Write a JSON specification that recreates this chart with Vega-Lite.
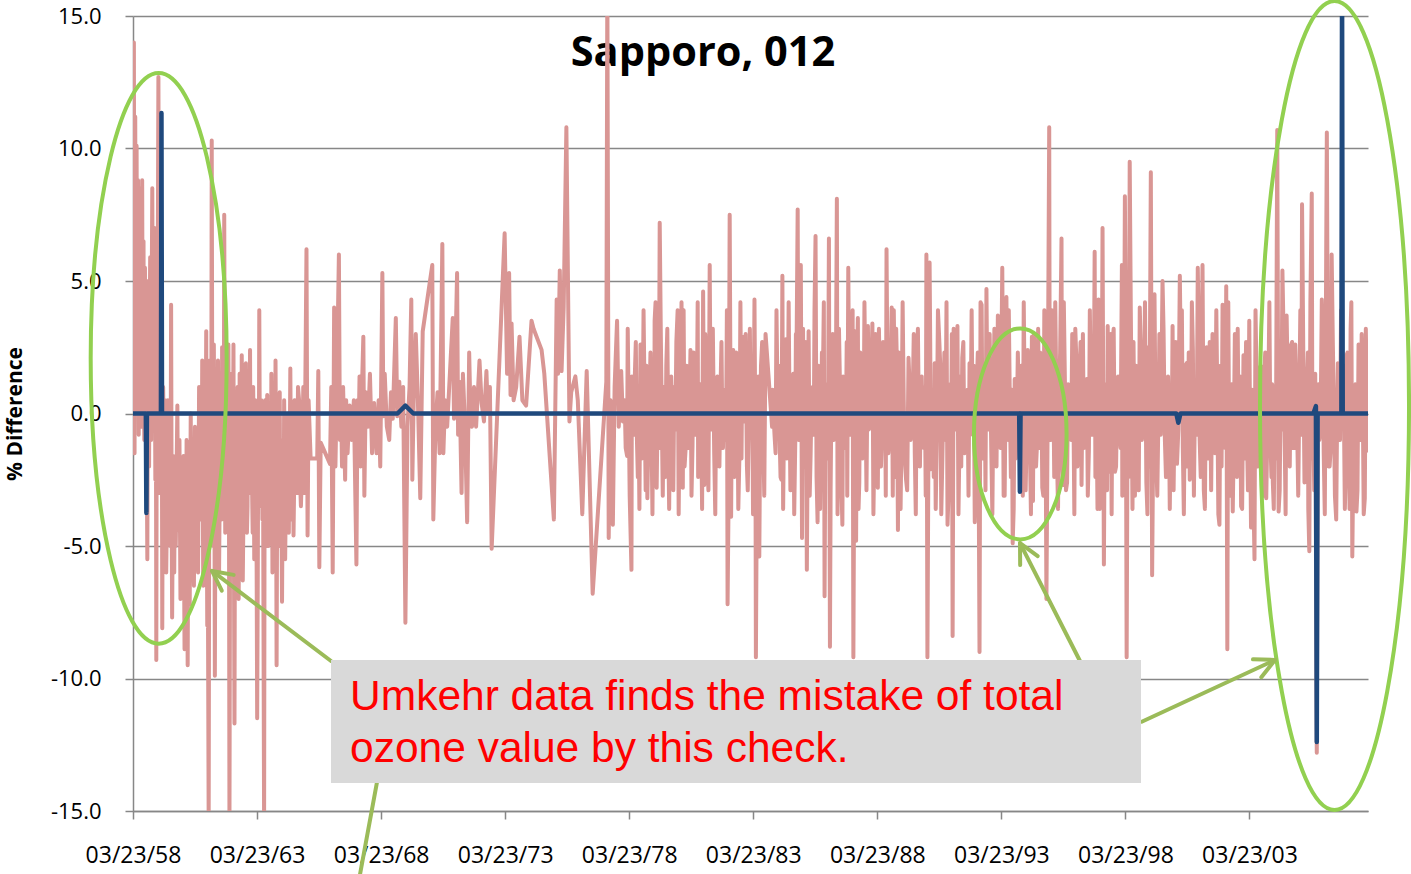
{
  "$schema": "https://vega.github.io/schema/vega-lite/v6.json",
  "autosize": {"type": "none"},
  "padding": {"left": 133, "top": 16, "right": 43, "bottom": 63},
  "width": 1235,
  "height": 795,
  "background": "#ffffff",
  "config": {
    "view": {"stroke": null},
    "font": "Open Sans",
    "axis": {"domainColor": "#878787", "domainWidth": 1.5, "gridColor": "#878787", "gridWidth": 1.5, "tickColor": "#878787", "tickWidth": 1.5, "labelColor": "#000000", "titleColor": "#000000", "labelFont": "Open Sans", "titleFont": "Open Sans"}
  },
  "encoding": {
    "x": {
      "field": "date", "type": "temporal",
      "scale": {"type": "utc", "domain": [{"year": 1958, "month": 3, "date": 23, "utc": true}, {"year": 2008, "month": 1, "date": 1, "utc": true}]},
      "axis": {
        "values": [
          {"year": 1958, "month": 3, "date": 23, "utc": true}, {"year": 1963, "month": 3, "date": 23, "utc": true},
          {"year": 1968, "month": 3, "date": 23, "utc": true}, {"year": 1973, "month": 3, "date": 23, "utc": true},
          {"year": 1978, "month": 3, "date": 23, "utc": true}, {"year": 1983, "month": 3, "date": 23, "utc": true},
          {"year": 1988, "month": 3, "date": 23, "utc": true}, {"year": 1993, "month": 3, "date": 23, "utc": true},
          {"year": 1998, "month": 3, "date": 23, "utc": true}, {"year": 2003, "month": 3, "date": 23, "utc": true}
        ],
        "labelExpr": "utcFormat(datum.value, '%m/%d/%y')",
        "grid": false, "tickSize": 8, "labelPadding": 25, "labelFontSize": 23, "labelFlush": false, "labelOverlap": false, "title": null
      }
    },
    "y": {
      "field": "pct", "type": "quantitative",
      "scale": {"domain": [-15, 15], "nice": false, "zero": false},
      "axis": {
        "values": [-15, -10, -5, 0, 5, 10, 15],
        "labelExpr": "(datum.value < 0 ? '-' : '') + format(abs(datum.value), '.1f')",
        "grid": true, "tickSize": 8, "labelPadding": 24, "labelFontSize": 22, "labelFlush": false,
        "title": "% Difference", "titleFontSize": 21, "titleFontWeight": "bold",
        "titleX": -118, "titleY": 397.5, "titleAngle": 270, "titleAlign": "center", "titleBaseline": "middle"
      }
    }
  },
  "layer": [
    {
      "data": {"values": [{"date": "1981-03-13", "pct": 13.11, "label": "Sapporo, 012"}]},
      "mark": {"type": "text", "color": "#000000", "font": "Open Sans", "fontSize": 41.5, "fontWeight": "bold", "align": "center", "baseline": "alphabetic"},
      "encoding": {"text": {"field": "label"}}
    },
    {
      "data": {"values": [
        {"date":"1958-03-25","pct":2.0},{"date":"1958-04-05","pct":14.0},{"date":"1958-04-15","pct":-1.5},{"date":"1958-04-25","pct":11.2},
        {"date":"1958-05-05","pct":0.5},{"date":"1958-05-15","pct":10.1},{"date":"1958-05-25","pct":2.0},{"date":"1958-06-05","pct":8.8},
        {"date":"1958-06-15","pct":-0.8},{"date":"1958-06-25","pct":8.5},{"date":"1958-07-05","pct":1.5},{"date":"1958-07-15","pct":7.2},
        {"date":"1958-07-25","pct":-0.5},{"date":"1958-08-05","pct":8.8},{"date":"1958-08-15","pct":2.2},{"date":"1958-08-25","pct":6.5},
        {"date":"1958-09-05","pct":-1.0},{"date":"1958-09-15","pct":5.5},{"date":"1958-09-25","pct":0.5},{"date":"1958-10-05","pct":4.8},
        {"date":"1958-10-20","pct":-5.5},{"date":"1958-11-01","pct":5.0},{"date":"1958-11-15","pct":-2.0},{"date":"1958-12-01","pct":5.9},
        {"date":"1958-12-15","pct":-1.0},{"date":"1959-01-01","pct":8.5},{"date":"1959-01-15","pct":0.5},{"date":"1959-02-01","pct":7.0},
        {"date":"1959-02-15","pct":-2.5},{"date":"1959-03-01","pct":-9.3},{"date":"1959-03-15","pct":4.5},{"date":"1959-04-01","pct":12.7},
        {"date":"1959-04-15","pct":-3.0},{"date":"1959-05-01","pct":2.0},{"date":"1959-05-15","pct":-2.5},{"date":"1959-05-28","pct":-8.1},
        {"date":"1959-06-10","pct":1.0},{"date":"1959-06-25","pct":-4.0},{"date":"1959-07-10","pct":0.5},{"date":"1959-07-25","pct":-6.0},
        {"date":"1959-08-10","pct":-1.0},{"date":"1959-08-25","pct":-3.5},{"date":"1959-09-10","pct":0.2},{"date":"1959-09-25","pct":-5.0},
        {"date":"1959-10-05","pct":4.1},{"date":"1959-10-20","pct":-7.7},{"date":"1959-11-05","pct":-1.6},{"date":"1959-11-20","pct":-6.0},
        {"date":"1959-12-05","pct":-2.0},{"date":"1959-12-20","pct":-3.5},
        {"date":"1960-01-05","pct":0.3},{"date":"1960-01-20","pct":-4.4},{"date":"1960-02-05","pct":-1.0},{"date":"1960-02-20","pct":-7.0},
        {"date":"1960-03-05","pct":-2.0},{"date":"1960-03-20","pct":-5.0},{"date":"1960-04-05","pct":-1.6},{"date":"1960-04-20","pct":-8.9},
        {"date":"1960-05-05","pct":-3.0},{"date":"1960-05-20","pct":-1.0},{"date":"1960-06-05","pct":-9.5},{"date":"1960-06-20","pct":-2.5},
        {"date":"1960-07-05","pct":-7.2},{"date":"1960-07-20","pct":0.0},{"date":"1960-08-05","pct":-5.0},{"date":"1960-08-20","pct":-1.6},
        {"date":"1960-09-05","pct":-6.5},{"date":"1960-09-20","pct":-0.5},{"date":"1960-10-05","pct":-4.0},{"date":"1960-10-20","pct":-1.0},
        {"date":"1960-11-05","pct":-6.0},{"date":"1960-11-20","pct":1.0},{"date":"1960-12-05","pct":-3.0},{"date":"1960-12-20","pct":-0.5},
        {"date":"1961-01-05","pct":2.0},{"date":"1961-01-20","pct":-6.5},{"date":"1961-02-05","pct":0.5},{"date":"1961-02-20","pct":-3.0},
        {"date":"1961-03-05","pct":3.1},{"date":"1961-03-20","pct":-8.0},{"date":"1961-04-10","pct":-15.5},{"date":"1961-04-25","pct":2.0},
        {"date":"1961-05-10","pct":1.0},{"date":"1961-05-25","pct":10.3},{"date":"1961-06-10","pct":-3.0},{"date":"1961-06-25","pct":2.6},
        {"date":"1961-07-10","pct":-9.9},{"date":"1961-07-25","pct":1.5},{"date":"1961-08-10","pct":-4.0},{"date":"1961-08-25","pct":2.0},
        {"date":"1961-09-10","pct":-6.0},{"date":"1961-09-25","pct":1.0},{"date":"1961-10-10","pct":-3.0},{"date":"1961-10-25","pct":2.5},
        {"date":"1961-11-10","pct":-2.0},{"date":"1961-11-25","pct":7.5},{"date":"1961-12-10","pct":-4.5},{"date":"1961-12-25","pct":1.0},
        {"date":"1962-01-10","pct":-2.0},{"date":"1962-01-25","pct":2.6},{"date":"1962-02-10","pct":-15.5},{"date":"1962-02-25","pct":-1.0},
        {"date":"1962-03-10","pct":1.5},{"date":"1962-03-25","pct":-5.0},{"date":"1962-04-10","pct":2.6},{"date":"1962-04-25","pct":-11.7},
        {"date":"1962-05-10","pct":0.5},{"date":"1962-05-25","pct":-4.0},{"date":"1962-06-10","pct":1.0},{"date":"1962-06-25","pct":-7.0},
        {"date":"1962-07-10","pct":1.5},{"date":"1962-07-25","pct":-3.0},{"date":"1962-08-10","pct":2.2},{"date":"1962-08-25","pct":-6.3},
        {"date":"1962-09-10","pct":1.8},{"date":"1962-09-25","pct":-1.5},{"date":"1962-10-10","pct":1.9},{"date":"1962-10-25","pct":-4.5},
        {"date":"1962-11-10","pct":0.5},{"date":"1962-11-25","pct":-2.8},{"date":"1962-12-10","pct":2.4},{"date":"1962-12-25","pct":-1.0},
        {"date":"1963-01-10","pct":-3.0},{"date":"1963-01-25","pct":1.0},{"date":"1963-02-10","pct":-5.5},{"date":"1963-02-25","pct":0.5},
        {"date":"1963-03-25","pct":-11.5},{"date":"1963-04-10","pct":-0.5},{"date":"1963-04-25","pct":3.9},{"date":"1963-05-10","pct":-2.0},
        {"date":"1963-05-25","pct":0.5},{"date":"1963-06-10","pct":-4.0},{"date":"1963-07-05","pct":-15.5},{"date":"1963-07-20","pct":0.5},
        {"date":"1963-08-05","pct":-3.0},{"date":"1963-08-20","pct":0.7},{"date":"1963-09-05","pct":-5.0},{"date":"1963-09-20","pct":-0.5},
        {"date":"1963-10-05","pct":-2.5},{"date":"1963-10-20","pct":1.5},{"date":"1963-11-05","pct":-6.0},{"date":"1963-11-20","pct":0.0},
        {"date":"1963-12-05","pct":-3.5},{"date":"1963-12-20","pct":2.0},
        {"date":"1964-01-05","pct":-9.5},{"date":"1964-01-20","pct":-1.0},{"date":"1964-02-05","pct":-4.0},{"date":"1964-02-20","pct":0.8},
        {"date":"1964-03-10","pct":-3.0},{"date":"1964-03-25","pct":-7.1},{"date":"1964-04-10","pct":-1.0},{"date":"1964-04-25","pct":0.5},
        {"date":"1964-05-10","pct":-5.5},{"date":"1964-05-25","pct":-2.0},{"date":"1964-06-10","pct":-4.3},{"date":"1964-06-25","pct":0.0},
        {"date":"1964-07-10","pct":-2.0},{"date":"1964-07-25","pct":1.7},{"date":"1964-08-10","pct":-3.0},{"date":"1964-08-25","pct":-1.0},
        {"date":"1964-09-10","pct":-4.6},{"date":"1964-09-25","pct":0.5},{"date":"1964-10-15","pct":-2.0},{"date":"1964-11-15","pct":1.0},
        {"date":"1964-12-15","pct":-2.5},
        {"date":"1965-01-15","pct":-2.0},{"date":"1965-02-01","pct":1.0},{"date":"1965-02-15","pct":-3.0},{"date":"1965-03-01","pct":0.5},
        {"date":"1965-03-20","pct":6.2},{"date":"1965-04-05","pct":-4.6},{"date":"1965-04-20","pct":0.5},{"date":"1965-05-20","pct":-1.7},
        {"date":"1965-08-25","pct":-1.7},{"date":"1965-09-10","pct":1.6},{"date":"1965-09-25","pct":-5.8},{"date":"1965-10-15","pct":-1.1},
        {"date":"1966-03-01","pct":-1.9},{"date":"1966-03-20","pct":1.0},{"date":"1966-04-10","pct":-6.0},{"date":"1966-05-01","pct":4.0},
        {"date":"1966-05-20","pct":-2.0},{"date":"1966-06-10","pct":1.0},{"date":"1966-07-10","pct":6.0},{"date":"1966-07-25","pct":-1.0},
        {"date":"1966-08-10","pct":0.5},{"date":"1966-08-25","pct":-2.0},{"date":"1966-09-10","pct":1.0},{"date":"1966-10-10","pct":-2.5},
        {"date":"1966-10-25","pct":0.5},{"date":"1966-11-15","pct":-1.5},{"date":"1966-12-15","pct":0.3},
        {"date":"1967-01-15","pct":-1.0},{"date":"1967-02-15","pct":0.5},{"date":"1967-03-25","pct":-5.7},{"date":"1967-04-10","pct":0.5},
        {"date":"1967-04-25","pct":-1.0},{"date":"1967-05-10","pct":1.4},{"date":"1967-05-25","pct":-2.0},{"date":"1967-06-10","pct":0.5},
        {"date":"1967-07-05","pct":2.9},{"date":"1967-07-20","pct":-3.1},{"date":"1967-08-10","pct":0.8},{"date":"1967-09-10","pct":-0.5},
        {"date":"1967-10-10","pct":1.5},{"date":"1967-11-10","pct":-1.5},{"date":"1967-12-10","pct":0.4},
        {"date":"1968-01-15","pct":-1.5},{"date":"1968-02-15","pct":0.5},{"date":"1968-03-10","pct":-2.0},{"date":"1968-04-10","pct":5.3},
        {"date":"1968-04-25","pct":-0.1},{"date":"1968-05-15","pct":1.5},{"date":"1968-06-15","pct":-0.5},{"date":"1968-07-20","pct":-1.0},
        {"date":"1968-08-15","pct":0.8},{"date":"1968-09-10","pct":-0.2},{"date":"1968-10-25","pct":3.6},{"date":"1968-11-15","pct":-0.1},
        {"date":"1968-12-15","pct":1.2},
        {"date":"1969-01-15","pct":-0.5},{"date":"1969-02-10","pct":1.0},{"date":"1969-03-15","pct":-7.9},{"date":"1969-04-15","pct":-0.5},
        {"date":"1969-05-15","pct":1.0},{"date":"1969-06-10","pct":4.3},{"date":"1969-06-25","pct":-2.5},{"date":"1969-07-15","pct":0.5},
        {"date":"1969-08-15","pct":3.0},{"date":"1969-09-15","pct":0.5},{"date":"1969-10-20","pct":-3.2},{"date":"1969-11-25","pct":3.1},
        {"date":"1970-04-15","pct":5.6},{"date":"1970-04-30","pct":-4.0},{"date":"1970-06-01","pct":-0.5},{"date":"1970-07-01","pct":0.8},
        {"date":"1970-08-01","pct":-1.5},{"date":"1970-09-10","pct":6.4},{"date":"1970-09-25","pct":-1.5},{"date":"1970-10-20","pct":0.5},
        {"date":"1970-11-20","pct":-0.5},{"date":"1970-12-20","pct":1.0},
        {"date":"1971-02-10","pct":3.6},{"date":"1971-03-01","pct":-0.2},{"date":"1971-04-15","pct":5.3},{"date":"1971-04-30","pct":-0.8},
        {"date":"1971-05-20","pct":1.2},{"date":"1971-06-20","pct":-3.0},{"date":"1971-07-10","pct":1.5},{"date":"1971-08-10","pct":-0.5},
        {"date":"1971-09-10","pct":-4.1},{"date":"1971-10-10","pct":2.3},{"date":"1971-10-25","pct":0.5},{"date":"1971-11-20","pct":-0.5},
        {"date":"1971-12-20","pct":1.0},
        {"date":"1972-01-20","pct":-0.5},{"date":"1972-03-10","pct":2.0},{"date":"1972-04-10","pct":0.4},{"date":"1972-05-15","pct":-0.3},
        {"date":"1972-06-20","pct":1.6},{"date":"1972-07-10","pct":0.0},{"date":"1972-08-10","pct":1.0},{"date":"1972-09-05","pct":-5.1},
        {"date":"1973-03-15","pct":6.8},{"date":"1973-04-20","pct":1.5},{"date":"1973-05-20","pct":5.3},{"date":"1973-06-10","pct":0.7},
        {"date":"1973-06-25","pct":3.4},{"date":"1973-07-25","pct":0.5},{"date":"1973-09-01","pct":1.0},{"date":"1973-10-20","pct":2.9},
        {"date":"1973-12-01","pct":0.5},{"date":"1974-01-25","pct":0.3},{"date":"1974-04-15","pct":3.5},{"date":"1974-05-15","pct":3.2},
        {"date":"1974-09-10","pct":2.4},{"date":"1974-10-20","pct":1.5},
        {"date":"1975-03-10","pct":-4.0},{"date":"1975-04-20","pct":4.3},{"date":"1975-05-10","pct":1.5},{"date":"1975-06-05","pct":5.4},
        {"date":"1975-07-01","pct":1.6},{"date":"1975-08-01","pct":4.0},{"date":"1975-09-10","pct":10.8},{"date":"1975-10-25","pct":-0.3},
        {"date":"1975-11-20","pct":0.8},{"date":"1976-01-20","pct":1.4},{"date":"1976-02-25","pct":0.5},{"date":"1976-05-01","pct":-3.8},
        {"date":"1976-07-05","pct":1.6},{"date":"1976-10-01","pct":-6.8},
        {"date":"1977-04-20","pct":1.2},{"date":"1977-05-05","pct":16.5},{"date":"1977-05-25","pct":-4.7},{"date":"1977-06-20","pct":0.5},
        {"date":"1977-07-25","pct":-4.2},{"date":"1977-08-20","pct":1.0},{"date":"1977-09-25","pct":3.5},{"date":"1977-10-20","pct":-0.5},
        {"date":"1977-11-25","pct":1.6},{"date":"1977-12-20","pct":-0.3},
        {"date":"1978-01-15","pct":0.5},{"date":"1978-02-20","pct":-1.6},{"date":"1978-03-15","pct":0.3},{"date":"1978-04-25","pct":-5.9},
        {"date":"1978-05-15","pct":-0.5},{"date":"1978-06-10","pct":1.1},{"date":"1978-07-10","pct":-0.5},{"date":"1978-08-05","pct":0.8},
        {"date":"1978-09-05","pct":2.6},{"date":"1978-10-05","pct":-0.8},{"date":"1978-11-05","pct":0.5},{"date":"1978-12-15","pct":-3.2},
        {"date":"1979-01-15","pct":0.5},{"date":"1979-02-15","pct":-0.8},{"date":"1979-03-15","pct":1.5},{"date":"1979-04-01","pct":3.5},
        {"date":"1979-05-01","pct":-2.8},{"date":"1979-06-15","pct":7.2},{"date":"1979-07-15","pct":0.0},{"date":"1979-08-15","pct":1.0},
        {"date":"1979-09-20","pct":1.8},{"date":"1979-10-20","pct":-1.1},{"date":"1979-11-15","pct":0.5},{"date":"1979-12-15","pct":-0.3},
        {"date":"1980-01-15","pct":1.0},{"date":"1980-03-05","pct":3.9},{"date":"1980-04-01","pct":-0.5},{"date":"1980-05-01","pct":4.2},
        {"date":"1980-05-20","pct":-2.8},{"date":"1980-07-01","pct":-1.3},{"date":"1980-08-01","pct":0.5},{"date":"1980-09-10","pct":2.4},
        {"date":"1980-10-10","pct":-1.2},{"date":"1980-11-10","pct":0.5},{"date":"1980-12-10","pct":-0.5},
        {"date":"1981-01-15","pct":0.5},{"date":"1981-02-15","pct":-0.5},{"date":"1981-03-15","pct":4.6},{"date":"1981-04-01","pct":-2.7},
        {"date":"1981-05-01","pct":1.0},{"date":"1981-06-20","pct":5.6},{"date":"1981-07-20","pct":0.3},{"date":"1981-08-25","pct":-1.5},
        {"date":"1981-09-25","pct":1.1},{"date":"1981-10-25","pct":-0.5},{"date":"1981-11-25","pct":0.8},{"date":"1981-12-25","pct":-1.0},
        {"date":"1982-01-20","pct":0.5},{"date":"1982-02-15","pct":-1.0},{"date":"1982-03-10","pct":-7.2},{"date":"1982-04-10","pct":7.5},
        {"date":"1982-05-01","pct":-3.9},{"date":"1982-06-01","pct":2.4},{"date":"1982-07-01","pct":-0.5},{"date":"1982-08-01","pct":0.8},
        {"date":"1982-09-01","pct":-1.5},{"date":"1982-10-15","pct":2.9},{"date":"1982-11-15","pct":-0.3},{"date":"1982-12-20","pct":-2.0},
        {"date":"1983-01-20","pct":0.3},{"date":"1983-03-05","pct":1.9},{"date":"1983-04-10","pct":4.3},{"date":"1983-05-01","pct":-9.2},
        {"date":"1983-05-20","pct":-0.5},{"date":"1983-06-20","pct":-5.4},{"date":"1983-07-15","pct":1.8},{"date":"1983-08-15","pct":-0.5},
        {"date":"1983-09-20","pct":3.0},{"date":"1983-12-25","pct":-0.5},
        {"date":"1984-01-15","pct":0.0},{"date":"1984-02-15","pct":-1.5},{"date":"1984-03-15","pct":0.5},{"date":"1984-04-15","pct":-1.0},
        {"date":"1984-05-10","pct":-2.5},{"date":"1984-05-25","pct":5.2},{"date":"1984-06-20","pct":0.3},{"date":"1984-07-15","pct":2.8},
        {"date":"1984-08-10","pct":-0.8},{"date":"1984-09-05","pct":1.0},{"date":"1984-10-05","pct":-2.1},{"date":"1984-11-01","pct":1.5},
        {"date":"1984-12-01","pct":-1.0},{"date":"1984-12-20","pct":2.5},
        {"date":"1985-01-05","pct":7.7},{"date":"1985-01-25","pct":-1.0},{"date":"1985-02-20","pct":5.6},{"date":"1985-03-10","pct":-4.7},
        {"date":"1985-04-01","pct":0.5},{"date":"1985-05-20","pct":-5.9},{"date":"1985-06-15","pct":3.1},{"date":"1985-07-15","pct":-1.5},
        {"date":"1985-08-15","pct":1.0},{"date":"1985-09-25","pct":6.7},{"date":"1985-10-25","pct":-4.1},{"date":"1985-11-20","pct":1.0},
        {"date":"1985-12-15","pct":-0.5},
        {"date":"1986-01-10","pct":1.0},{"date":"1986-02-05","pct":-6.9},{"date":"1986-03-10","pct":0.5},{"date":"1986-04-10","pct":6.6},
        {"date":"1986-04-25","pct":-8.8},{"date":"1986-05-20","pct":1.5},{"date":"1986-06-20","pct":-1.0},{"date":"1986-07-20","pct":0.5},
        {"date":"1986-08-05","pct":8.1},{"date":"1986-08-25","pct":-1.5},{"date":"1986-09-20","pct":1.0},{"date":"1986-10-25","pct":-4.2},
        {"date":"1986-11-20","pct":0.5},{"date":"1986-12-15","pct":-1.0},
        {"date":"1987-01-20","pct":5.5},{"date":"1987-02-15","pct":-0.5},{"date":"1987-03-10","pct":1.0},{"date":"1987-04-05","pct":-9.2},
        {"date":"1987-04-25","pct":3.1},{"date":"1987-05-15","pct":-4.8},{"date":"1987-06-10","pct":3.6},{"date":"1987-07-01","pct":-2.6},
        {"date":"1987-08-01","pct":1.0},{"date":"1987-09-01","pct":-1.5},{"date":"1987-10-01","pct":0.5},{"date":"1987-11-05","pct":3.3},
        {"date":"1987-12-05","pct":-0.5},
        {"date":"1988-01-10","pct":3.4},{"date":"1988-02-10","pct":-1.0},{"date":"1988-03-10","pct":0.5},{"date":"1988-03-30","pct":-2.8},
        {"date":"1988-05-01","pct":1.0},{"date":"1988-06-01","pct":-0.5},{"date":"1988-07-15","pct":0.5},{"date":"1988-08-05","pct":6.2},
        {"date":"1988-09-01","pct":-1.5},{"date":"1988-10-01","pct":1.0},{"date":"1988-10-20","pct":4.0},{"date":"1988-11-05","pct":-3.1},
        {"date":"1988-12-05","pct":0.5},{"date":"1988-12-25","pct":3.2},
        {"date":"1989-01-20","pct":-4.4},{"date":"1989-02-15","pct":1.0},{"date":"1989-03-15","pct":-0.5},{"date":"1989-04-15","pct":0.5},
        {"date":"1989-05-20","pct":-2.5},{"date":"1989-06-25","pct":2.1},{"date":"1989-07-25","pct":-1.0},{"date":"1989-08-25","pct":0.5},
        {"date":"1989-09-25","pct":-1.5},{"date":"1989-10-25","pct":1.9},{"date":"1989-11-25","pct":-0.5},{"date":"1989-12-25","pct":1.0},
        {"date":"1990-01-20","pct":-0.5},{"date":"1990-02-20","pct":1.0},{"date":"1990-03-15","pct":6.0},{"date":"1990-03-30","pct":-9.2},
        {"date":"1990-05-01","pct":5.7},{"date":"1990-05-20","pct":-2.1},{"date":"1990-06-20","pct":0.5},{"date":"1990-07-15","pct":1.9},
        {"date":"1990-08-15","pct":-1.0},{"date":"1990-09-20","pct":2.8},{"date":"1990-10-20","pct":-3.8},{"date":"1990-11-20","pct":0.5},
        {"date":"1990-12-20","pct":-1.0},
        {"date":"1991-01-20","pct":-4.2},{"date":"1991-02-20","pct":0.5},{"date":"1991-03-15","pct":-0.5},{"date":"1991-04-05","pct":-8.4},
        {"date":"1991-05-01","pct":1.0},{"date":"1991-06-15","pct":3.3},{"date":"1991-07-15","pct":-1.0},{"date":"1991-08-25","pct":2.1},
        {"date":"1991-09-25","pct":-1.5},{"date":"1991-10-25","pct":0.5},{"date":"1991-12-10","pct":1.9},{"date":"1991-12-25","pct":-0.5},
        {"date":"1992-02-25","pct":-4.1},{"date":"1992-03-25","pct":1.0},{"date":"1992-05-05","pct":-9.0},{"date":"1992-06-05","pct":4.1},
        {"date":"1992-07-05","pct":-0.5},{"date":"1992-08-15","pct":4.7},{"date":"1992-09-15","pct":0.3},{"date":"1992-10-25","pct":-1.4},
        {"date":"1992-11-25","pct":0.5},{"date":"1992-12-25","pct":-1.0},
        {"date":"1993-01-30","pct":3.7},{"date":"1993-02-25","pct":-0.5},{"date":"1993-04-05","pct":5.5},{"date":"1993-04-25","pct":-3.1},
        {"date":"1993-06-05","pct":4.4},{"date":"1993-07-01","pct":-1.0},{"date":"1993-07-25","pct":0.5},{"date":"1993-09-05","pct":-4.9},
        {"date":"1993-10-05","pct":1.3},{"date":"1993-11-05","pct":-0.5},{"date":"1993-12-05","pct":0.5},{"date":"1993-12-25","pct":-1.0},
        {"date":"1994-02-01","pct":-3.1},{"date":"1994-03-01","pct":0.5},{"date":"1994-04-15","pct":2.4},{"date":"1994-05-15","pct":-1.0},
        {"date":"1994-06-15","pct":2.9},{"date":"1994-07-01","pct":-3.3},{"date":"1994-08-01","pct":0.5},{"date":"1994-09-01","pct":-1.0},
        {"date":"1994-10-15","pct":2.3},{"date":"1994-11-15","pct":-2.8},{"date":"1994-12-15","pct":3.9},
        {"date":"1995-01-15","pct":-7.0},{"date":"1995-02-25","pct":10.8},{"date":"1995-03-20","pct":-1.0},{"date":"1995-04-25","pct":1.5},
        {"date":"1995-05-25","pct":4.2},{"date":"1995-06-20","pct":-1.7},{"date":"1995-07-20","pct":1.0},{"date":"1995-08-25","pct":6.6},
        {"date":"1995-09-15","pct":-2.7},{"date":"1995-10-15","pct":1.0},{"date":"1995-11-15","pct":-2.6},{"date":"1995-12-15","pct":0.5},
        {"date":"1996-01-15","pct":-1.0},{"date":"1996-02-15","pct":0.5},{"date":"1996-04-01","pct":1.9},{"date":"1996-05-01","pct":-1.0},
        {"date":"1996-06-15","pct":-2.7},{"date":"1996-07-05","pct":3.0},{"date":"1996-08-05","pct":0.0},{"date":"1996-09-01","pct":1.3},
        {"date":"1996-10-01","pct":-1.4},{"date":"1996-11-01","pct":0.5},{"date":"1996-12-01","pct":-0.5},{"date":"1996-12-25","pct":6.1},
        {"date":"1997-01-20","pct":0.5},{"date":"1997-02-20","pct":4.3},{"date":"1997-03-10","pct":-3.6},{"date":"1997-04-20","pct":7.0},
        {"date":"1997-05-10","pct":-5.7},{"date":"1997-06-10","pct":1.0},{"date":"1997-07-05","pct":3.3},{"date":"1997-08-01","pct":-2.2},
        {"date":"1997-09-15","pct":2.7},{"date":"1997-10-20","pct":-2.2},{"date":"1997-11-20","pct":0.5},{"date":"1997-12-20","pct":-0.5},
        {"date":"1998-01-30","pct":5.6},{"date":"1998-02-20","pct":0.5},{"date":"1998-03-15","pct":8.2},{"date":"1998-04-10","pct":-9.2},
        {"date":"1998-05-25","pct":9.5},{"date":"1998-06-25","pct":-0.5},{"date":"1998-07-20","pct":2.7},{"date":"1998-08-10","pct":-3.1},
        {"date":"1998-09-10","pct":1.0},{"date":"1998-10-20","pct":4.0},{"date":"1998-11-20","pct":-1.0},{"date":"1998-12-20","pct":0.5},
        {"date":"1999-01-25","pct":-2.6},{"date":"1999-02-25","pct":2.5},{"date":"1999-04-01","pct":9.1},{"date":"1999-04-20","pct":-6.1},
        {"date":"1999-05-25","pct":4.5},{"date":"1999-06-20","pct":-1.8},{"date":"1999-07-25","pct":0.5},{"date":"1999-09-20","pct":5.0},
        {"date":"1999-10-25","pct":-1.0},{"date":"1999-11-25","pct":0.5},{"date":"1999-12-25","pct":-0.5},
        {"date":"2000-01-25","pct":1.0},{"date":"2000-02-15","pct":3.3},{"date":"2000-03-15","pct":0.0},{"date":"2000-04-20","pct":-1.9},
        {"date":"2000-06-01","pct":5.2},{"date":"2000-07-15","pct":-1.3},{"date":"2000-09-10","pct":1.9},{"date":"2000-10-25","pct":-2.5},
        {"date":"2000-12-10","pct":2.4},
        {"date":"2001-01-05","pct":-0.5},{"date":"2001-02-20","pct":5.5},{"date":"2001-03-20","pct":-1.0},{"date":"2001-05-01","pct":5.6},
        {"date":"2001-05-20","pct":-2.9},{"date":"2001-07-01","pct":2.5},{"date":"2001-08-01","pct":-0.5},{"date":"2001-09-25","pct":3.0},
        {"date":"2001-11-01","pct":-1.5},{"date":"2001-12-05","pct":0.5},
        {"date":"2002-01-05","pct":-4.2},{"date":"2002-02-20","pct":4.1},{"date":"2002-03-20","pct":-1.0},{"date":"2002-04-15","pct":4.8},
        {"date":"2002-05-01","pct":-8.9},{"date":"2002-06-15","pct":0.5},{"date":"2002-07-20","pct":-3.7},{"date":"2002-09-05","pct":2.5},
        {"date":"2002-10-15","pct":-1.0},{"date":"2002-11-20","pct":-3.5},{"date":"2002-12-25","pct":2.2},
        {"date":"2003-01-20","pct":0.5},{"date":"2003-02-15","pct":-1.0},{"date":"2003-03-20","pct":3.5},{"date":"2003-04-15","pct":-4.3},
        {"date":"2003-05-15","pct":0.5},{"date":"2003-06-05","pct":-5.5},{"date":"2003-07-10","pct":0.5},{"date":"2003-08-20","pct":1.7},
        {"date":"2003-09-25","pct":-0.5},{"date":"2003-10-25","pct":1.4},{"date":"2003-11-25","pct":-3.2},{"date":"2003-12-25","pct":0.5},
        {"date":"2004-01-25","pct":-1.0},{"date":"2004-03-01","pct":-2.6},{"date":"2004-04-01","pct":1.0},{"date":"2004-05-05","pct":10.7},
        {"date":"2004-05-25","pct":-3.7},{"date":"2004-06-25","pct":1.0},{"date":"2004-07-20","pct":5.4},{"date":"2004-08-20","pct":-0.5},
        {"date":"2004-09-20","pct":3.7},{"date":"2004-10-20","pct":-1.3},{"date":"2004-11-25","pct":2.6},{"date":"2004-12-25","pct":-1.3},
        {"date":"2005-01-25","pct":2.6},{"date":"2005-02-25","pct":-1.0},{"date":"2005-03-25","pct":0.5},{"date":"2005-05-05","pct":7.9},
        {"date":"2005-06-10","pct":-2.6},{"date":"2005-07-15","pct":1.0},{"date":"2005-08-20","pct":-5.2},{"date":"2005-09-25","pct":8.3},
        {"date":"2005-10-20","pct":-1.0},{"date":"2005-11-15","pct":1.5},{"date":"2005-12-08","pct":-12.8},{"date":"2005-12-25","pct":0.5},
        {"date":"2006-01-15","pct":-1.0},{"date":"2006-02-20","pct":4.3},{"date":"2006-03-20","pct":-1.5},{"date":"2006-05-05","pct":10.6},
        {"date":"2006-06-01","pct":-2.0},{"date":"2006-07-15","pct":6.0},{"date":"2006-08-15","pct":0.5},{"date":"2006-09-20","pct":-4.0},
        {"date":"2006-10-15","pct":1.9},{"date":"2006-11-15","pct":-1.0},{"date":"2006-12-20","pct":0.5},
        {"date":"2007-01-25","pct":-3.6},{"date":"2007-02-20","pct":2.2},{"date":"2007-03-25","pct":-1.0},{"date":"2007-04-20","pct":3.2},
        {"date":"2007-05-15","pct":-5.4},{"date":"2007-06-15","pct":1.0},{"date":"2007-07-15","pct":-3.7},{"date":"2007-08-15","pct":2.6},
        {"date":"2007-09-15","pct":-1.0},{"date":"2007-10-15","pct":0.7},{"date":"2007-11-15","pct":-3.2},{"date":"2007-12-15","pct":0.5},
        {"date":"2007-12-28","pct":-1.4},

        {"date":"1958-03-30","pct":9.0},{"date":"1958-04-10","pct":4.5},{"date":"1958-04-20","pct":7.5},{"date":"1958-04-30","pct":5.0},
        {"date":"1958-05-10","pct":6.5},{"date":"1958-05-20","pct":4.0},{"date":"1958-05-30","pct":7.0},{"date":"1958-06-10","pct":3.0},
        {"date":"1958-06-20","pct":6.0},{"date":"1958-06-30","pct":2.5},{"date":"1958-07-10","pct":5.5},{"date":"1958-07-20","pct":3.0},
        {"date":"1958-07-30","pct":6.0},{"date":"1958-08-10","pct":4.0},{"date":"1958-08-20","pct":5.0},{"date":"1958-08-30","pct":1.5},
        {"date":"1958-09-10","pct":3.5},{"date":"1958-09-20","pct":2.0},{"date":"1958-09-30","pct":3.0},{"date":"1958-10-10","pct":-1.0},
        {"date":"1958-10-28","pct":2.5},{"date":"1958-11-08","pct":1.0},{"date":"1958-11-22","pct":3.0},{"date":"1958-12-08","pct":0.5},
        {"date":"1958-12-22","pct":4.0},
        {"date":"1959-01-08","pct":3.0},{"date":"1959-01-22","pct":5.0},{"date":"1959-02-08","pct":2.5},{"date":"1959-02-22","pct":4.0},
        {"date":"1959-03-08","pct":2.0},{"date":"1959-03-22","pct":5.0},{"date":"1959-04-08","pct":6.0},{"date":"1959-04-22","pct":1.5},
        {"date":"1959-05-08","pct":-1.0},{"date":"1959-05-22","pct":0.5},{"date":"1959-06-03","pct":-2.5},{"date":"1959-06-18","pct":-1.0},
        {"date":"1959-07-03","pct":-3.0},{"date":"1959-07-18","pct":-2.0},{"date":"1959-08-03","pct":-4.0},{"date":"1959-08-18","pct":0.5},
        {"date":"1959-09-03","pct":-2.5},{"date":"1959-09-18","pct":-3.5},{"date":"1959-10-12","pct":-3.0},{"date":"1959-10-28","pct":-4.5},
        {"date":"1959-11-12","pct":-3.5},{"date":"1959-11-28","pct":-2.5},{"date":"1959-12-12","pct":-5.0},{"date":"1959-12-28","pct":-1.5},
        {"date":"1960-01-12","pct":-2.5},{"date":"1960-01-28","pct":-2.0},{"date":"1960-02-12","pct":-4.0},{"date":"1960-02-28","pct":-3.5},
        {"date":"1960-03-12","pct":-6.0},{"date":"1960-03-28","pct":-3.0},{"date":"1960-04-12","pct":-5.5},{"date":"1960-04-28","pct":-4.0},
        {"date":"1960-05-12","pct":-6.5},{"date":"1960-05-28","pct":-5.0},{"date":"1960-06-12","pct":-4.5},{"date":"1960-06-28","pct":-6.0},
        {"date":"1960-07-12","pct":-3.5},{"date":"1960-07-28","pct":-4.5},{"date":"1960-08-12","pct":-2.5},{"date":"1960-08-28","pct":-5.5},
        {"date":"1960-09-12","pct":-3.0},{"date":"1960-09-28","pct":-4.0},{"date":"1960-10-12","pct":-2.0},{"date":"1960-10-28","pct":-5.0},
        {"date":"1960-11-12","pct":-2.5},{"date":"1960-11-28","pct":-4.0},{"date":"1960-12-12","pct":-1.5},{"date":"1960-12-28","pct":-3.5},
        {"date":"1961-01-12","pct":-2.0},{"date":"1961-01-28","pct":-1.0},{"date":"1961-02-12","pct":-4.0},{"date":"1961-02-28","pct":0.5},
        {"date":"1961-03-12","pct":-2.5},{"date":"1961-03-28","pct":-5.0},{"date":"1961-04-18","pct":-3.0},{"date":"1961-05-03","pct":-4.0},
        {"date":"1961-05-18","pct":-2.0},{"date":"1961-06-03","pct":-1.0},{"date":"1961-06-18","pct":-5.0},{"date":"1961-07-03","pct":-1.5},
        {"date":"1961-07-18","pct":-3.5},{"date":"1961-08-03","pct":-1.0},{"date":"1961-08-18","pct":-6.0},{"date":"1961-09-03","pct":-2.0},
        {"date":"1961-09-18","pct":-3.5},{"date":"1961-10-03","pct":0.5},{"date":"1961-10-18","pct":-4.0},{"date":"1961-11-03","pct":-1.0},
        {"date":"1961-11-18","pct":-3.0},{"date":"1961-12-03","pct":0.5},{"date":"1961-12-18","pct":-2.5},
        {"date":"1962-01-03","pct":-4.0},{"date":"1962-01-18","pct":-1.5},{"date":"1962-02-03","pct":-3.0},{"date":"1962-02-18","pct":-5.5},
        {"date":"1962-03-03","pct":-2.0},{"date":"1962-03-18","pct":-3.5},{"date":"1962-04-03","pct":-1.0},{"date":"1962-04-18","pct":-6.0},
        {"date":"1962-05-03","pct":-2.5},{"date":"1962-05-18","pct":-1.0},{"date":"1962-06-03","pct":-3.5},{"date":"1962-06-18","pct":-2.0},
        {"date":"1962-07-03","pct":-4.5},{"date":"1962-07-18","pct":-1.5},{"date":"1962-08-03","pct":-3.0},{"date":"1962-08-18","pct":-2.0},
        {"date":"1962-09-03","pct":-4.0},{"date":"1962-09-18","pct":-0.5},{"date":"1962-10-03","pct":-2.5},{"date":"1962-10-18","pct":-1.0},
        {"date":"1962-11-03","pct":-3.5},{"date":"1962-11-18","pct":-1.5},{"date":"1962-12-03","pct":-2.0},{"date":"1962-12-18","pct":-3.0},
        {"date":"1963-01-03","pct":-2.0},{"date":"1963-01-18","pct":-4.5},{"date":"1963-02-03","pct":-1.5},{"date":"1963-02-18","pct":-3.0},
        {"date":"1963-03-05","pct":-2.0},{"date":"1963-03-15","pct":-4.0},{"date":"1963-04-03","pct":-6.0},{"date":"1963-04-18","pct":-2.5},
        {"date":"1963-05-03","pct":-1.0},{"date":"1963-05-18","pct":-3.5},{"date":"1963-06-03","pct":-1.5},{"date":"1963-06-20","pct":-2.5},
        {"date":"1963-07-12","pct":-3.0},{"date":"1963-07-28","pct":-5.0},{"date":"1963-08-12","pct":-1.5},{"date":"1963-08-28","pct":-4.0},
        {"date":"1963-09-12","pct":-2.0},{"date":"1963-09-28","pct":-3.0},{"date":"1963-10-12","pct":-4.5},{"date":"1963-10-28","pct":-1.0},
        {"date":"1963-11-12","pct":-3.5},{"date":"1963-11-28","pct":-2.5},{"date":"1963-12-12","pct":-5.0},{"date":"1963-12-28","pct":-1.5},
        {"date":"1964-01-12","pct":-4.0},{"date":"1964-01-28","pct":-3.0},{"date":"1964-02-12","pct":-1.5},{"date":"1964-02-28","pct":-5.0},
        {"date":"1964-03-03","pct":-2.0},{"date":"1964-03-18","pct":-4.5},{"date":"1964-04-03","pct":-3.0},{"date":"1964-04-18","pct":-5.0},
        {"date":"1964-05-03","pct":-1.5},{"date":"1964-05-18","pct":-3.5},{"date":"1964-06-03","pct":-2.5},{"date":"1964-06-18","pct":-3.0},
        {"date":"1964-07-03","pct":-4.5},{"date":"1964-07-18","pct":-1.0},{"date":"1964-08-03","pct":-2.0},{"date":"1964-08-18","pct":-4.0},
        {"date":"1964-09-03","pct":-1.5},{"date":"1964-09-18","pct":-3.0},{"date":"1964-10-01","pct":0.5},{"date":"1964-11-01","pct":-3.0},
        {"date":"1964-12-01","pct":0.5},{"date":"1964-12-28","pct":-3.5},

        {"date":"1978-01-30","pct":-1.3},{"date":"1978-03-01","pct":3.2},{"date":"1978-03-30","pct":-3.1},{"date":"1978-05-01","pct":1.4},
        {"date":"1978-05-30","pct":-0.8},{"date":"1978-06-28","pct":2.7},{"date":"1978-07-28","pct":-2.4},{"date":"1978-08-20","pct":-3.6},
        {"date":"1978-09-20","pct":-1.7},{"date":"1978-10-20","pct":3.9},{"date":"1978-11-20","pct":-2.9},{"date":"1978-12-01","pct":1.8},
        {"date":"1979-01-01","pct":-0.6},{"date":"1979-01-30","pct":2.3},{"date":"1979-02-28","pct":-3.8},{"date":"1979-03-28","pct":-2.0},
        {"date":"1979-04-15","pct":4.2},{"date":"1979-05-20","pct":1.1},{"date":"1979-06-01","pct":-1.3},{"date":"1979-07-01","pct":3.0},
        {"date":"1979-07-30","pct":-3.1},{"date":"1979-08-30","pct":-0.8},{"date":"1979-09-05","pct":-2.4},{"date":"1979-10-05","pct":3.2},
        {"date":"1979-11-01","pct":-3.6},{"date":"1979-12-01","pct":1.4},{"date":"1979-12-28","pct":-1.7},
        {"date":"1980-01-01","pct":-2.9},{"date":"1980-02-01","pct":-0.6},{"date":"1980-02-15","pct":2.7},{"date":"1980-03-20","pct":-3.8},
        {"date":"1980-04-15","pct":0.9},{"date":"1980-06-01","pct":3.9},{"date":"1980-06-15","pct":-2.0},{"date":"1980-07-15","pct":1.8},
        {"date":"1980-08-15","pct":-1.3},{"date":"1980-09-25","pct":-3.1},{"date":"1980-10-25","pct":2.3},{"date":"1980-11-25","pct":-0.8},
        {"date":"1980-12-25","pct":4.2},
        {"date":"1981-01-01","pct":-2.4},{"date":"1981-01-30","pct":1.1},{"date":"1981-02-28","pct":-3.6},{"date":"1981-04-15","pct":3.0},
        {"date":"1981-05-15","pct":-1.7},{"date":"1981-06-01","pct":-2.9},{"date":"1981-07-05","pct":-0.6},{"date":"1981-08-05","pct":3.2},
        {"date":"1981-09-10","pct":-3.8},{"date":"1981-10-10","pct":1.4},{"date":"1981-11-10","pct":-2.0},{"date":"1981-12-10","pct":2.7},
        {"date":"1982-01-01","pct":-1.3},{"date":"1982-02-01","pct":0.9},{"date":"1982-02-28","pct":3.9},{"date":"1982-03-25","pct":-3.1},
        {"date":"1982-04-25","pct":-0.8},{"date":"1982-05-15","pct":1.8},{"date":"1982-06-15","pct":-2.4},{"date":"1982-07-15","pct":2.3},
        {"date":"1982-08-15","pct":-3.6},{"date":"1982-09-15","pct":4.2},{"date":"1982-10-01","pct":-1.7},{"date":"1982-11-01","pct":1.1},
        {"date":"1982-12-01","pct":3.0},
        {"date":"1983-01-01","pct":-2.9},{"date":"1983-02-01","pct":3.2},{"date":"1983-02-15","pct":-0.6},{"date":"1983-03-20","pct":-3.8},
        {"date":"1983-04-25","pct":-2.0},{"date":"1983-06-05","pct":1.4},{"date":"1983-07-01","pct":-1.3},{"date":"1983-08-01","pct":2.7},
        {"date":"1983-09-01","pct":-3.1},
        {"date":"1984-01-01","pct":0.9},{"date":"1984-01-30","pct":-0.8},{"date":"1984-02-28","pct":3.9},{"date":"1984-04-01","pct":1.8},
        {"date":"1984-04-28","pct":-2.4},{"date":"1984-06-05","pct":-3.6},{"date":"1984-07-01","pct":2.3},{"date":"1984-07-28","pct":-1.7},
        {"date":"1984-08-25","pct":4.2},{"date":"1984-09-20","pct":-2.9},{"date":"1984-10-20","pct":1.1},{"date":"1984-11-15","pct":-3.8},
        {"date":"1984-12-10","pct":3.0},
        {"date":"1985-01-15","pct":-0.6},{"date":"1985-02-05","pct":1.4},{"date":"1985-03-25","pct":3.2},{"date":"1985-04-15","pct":-2.0},
        {"date":"1985-05-05","pct":2.7},{"date":"1985-06-01","pct":-1.3},{"date":"1985-07-01","pct":-3.1},{"date":"1985-07-30","pct":0.9},
        {"date":"1985-08-30","pct":-0.8},{"date":"1985-09-10","pct":3.9},{"date":"1985-10-10","pct":-2.4},{"date":"1985-11-05","pct":1.8},
        {"date":"1985-12-01","pct":-3.6},{"date":"1985-12-28","pct":2.3},
        {"date":"1986-01-25","pct":4.2},{"date":"1986-02-20","pct":1.1},{"date":"1986-03-25","pct":-1.7},{"date":"1986-05-05","pct":-2.9},
        {"date":"1986-06-05","pct":3.0},{"date":"1986-07-05","pct":-0.6},{"date":"1986-08-15","pct":-3.8},{"date":"1986-09-05","pct":3.2},
        {"date":"1986-10-05","pct":-2.0},{"date":"1986-11-05","pct":1.4},{"date":"1986-12-01","pct":-1.3},{"date":"1986-12-28","pct":2.7},
        {"date":"1987-01-05","pct":-3.1},{"date":"1987-02-01","pct":0.9},{"date":"1987-02-28","pct":-0.8},{"date":"1987-03-25","pct":3.9},
        {"date":"1987-05-01","pct":-2.4},{"date":"1987-05-28","pct":1.8},{"date":"1987-06-20","pct":-3.6},{"date":"1987-07-15","pct":2.3},
        {"date":"1987-08-15","pct":-1.7},{"date":"1987-09-15","pct":4.2},{"date":"1987-10-15","pct":-2.9},{"date":"1987-11-20","pct":-0.6},
        {"date":"1987-12-20","pct":1.1},
        {"date":"1988-01-25","pct":-3.8},{"date":"1988-02-25","pct":3.0},{"date":"1988-03-20","pct":1.4},{"date":"1988-04-15","pct":3.2},
        {"date":"1988-05-15","pct":-2.0},{"date":"1988-06-15","pct":2.7},{"date":"1988-07-01","pct":-1.3},{"date":"1988-07-25","pct":-3.1},
        {"date":"1988-08-20","pct":0.9},{"date":"1988-09-15","pct":-0.8},{"date":"1988-11-20","pct":3.9},{"date":"1988-12-15","pct":-2.4},
        {"date":"1989-01-05","pct":1.8},{"date":"1989-02-01","pct":2.3},{"date":"1989-02-28","pct":-3.6},{"date":"1989-03-30","pct":4.2},
        {"date":"1989-04-30","pct":-1.7},{"date":"1989-06-05","pct":-2.9},{"date":"1989-07-10","pct":1.1},{"date":"1989-08-10","pct":-0.6},
        {"date":"1989-09-10","pct":3.0},{"date":"1989-10-10","pct":-3.8},{"date":"1989-11-10","pct":3.2},{"date":"1989-12-10","pct":-2.0},
        {"date":"1990-01-05","pct":1.4},{"date":"1990-02-05","pct":-1.3},{"date":"1990-03-05","pct":-3.1},{"date":"1990-04-15","pct":-0.8},
        {"date":"1990-05-10","pct":2.7},{"date":"1990-06-05","pct":0.9},{"date":"1990-07-01","pct":-2.4},{"date":"1990-07-30","pct":-3.6},
        {"date":"1990-09-01","pct":3.9},{"date":"1990-10-05","pct":1.8},{"date":"1990-11-05","pct":-1.7},{"date":"1990-12-05","pct":2.3},
        {"date":"1991-01-05","pct":4.2},{"date":"1991-02-05","pct":-2.9},{"date":"1991-03-01","pct":1.1},{"date":"1991-03-25","pct":3.0},
        {"date":"1991-04-20","pct":3.2},{"date":"1991-05-20","pct":-0.6},{"date":"1991-06-30","pct":-3.8},{"date":"1991-08-01","pct":1.4},
        {"date":"1991-08-10","pct":-2.0},{"date":"1991-09-10","pct":2.7},{"date":"1991-10-10","pct":-1.3},{"date":"1991-11-10","pct":0.9},
        {"date":"1991-11-25","pct":-3.1},
        {"date":"1992-01-10","pct":3.9},{"date":"1992-01-25","pct":-0.8},{"date":"1992-02-10","pct":1.8},{"date":"1992-03-10","pct":-2.4},
        {"date":"1992-04-10","pct":2.3},{"date":"1992-04-25","pct":-3.6},{"date":"1992-05-20","pct":4.2},{"date":"1992-06-20","pct":-1.7},
        {"date":"1992-07-20","pct":1.1},{"date":"1992-08-01","pct":-2.9},{"date":"1992-09-01","pct":-0.6},{"date":"1992-10-01","pct":3.0},
        {"date":"1992-11-10","pct":-3.8},{"date":"1992-12-10","pct":3.2},
        {"date":"1993-01-10","pct":-2.0},{"date":"1993-02-10","pct":1.4},{"date":"1993-03-10","pct":-1.3},{"date":"1993-03-25","pct":2.7},
        {"date":"1993-05-10","pct":-3.1},{"date":"1993-06-20","pct":-0.8},{"date":"1993-07-10","pct":3.9},{"date":"1993-08-10","pct":-2.4},
        {"date":"1993-08-25","pct":0.9},{"date":"1993-09-20","pct":-3.6},{"date":"1993-10-20","pct":-1.7},{"date":"1993-11-20","pct":2.3},
        {"date":"1994-01-10","pct":1.8},{"date":"1994-02-15","pct":4.2},{"date":"1994-03-15","pct":-2.9},{"date":"1994-04-01","pct":-0.6},
        {"date":"1994-05-01","pct":1.1},{"date":"1994-06-01","pct":-3.8},{"date":"1994-07-15","pct":3.0},{"date":"1994-08-15","pct":-2.0},
        {"date":"1994-09-15","pct":3.2},{"date":"1994-10-01","pct":-1.3},{"date":"1994-11-01","pct":1.4},{"date":"1994-12-01","pct":-3.1},
        {"date":"1994-12-28","pct":2.7},
        {"date":"1995-02-05","pct":0.9},{"date":"1995-03-05","pct":-0.8},{"date":"1995-04-05","pct":3.9},{"date":"1995-05-10","pct":-2.4},
        {"date":"1995-06-05","pct":1.8},{"date":"1995-07-05","pct":-3.6},{"date":"1995-08-05","pct":2.3},{"date":"1995-09-01","pct":-1.7},
        {"date":"1995-09-28","pct":4.2},{"date":"1995-10-30","pct":-2.9},{"date":"1995-11-30","pct":1.1},{"date":"1995-12-30","pct":-0.6},
        {"date":"1996-01-30","pct":3.0},{"date":"1996-03-01","pct":-3.8},{"date":"1996-03-15","pct":3.2},{"date":"1996-04-15","pct":-2.0},
        {"date":"1996-05-15","pct":1.4},{"date":"1996-06-01","pct":2.7},{"date":"1996-07-20","pct":-1.3},{"date":"1996-08-20","pct":0.9},
        {"date":"1996-09-15","pct":-3.1},{"date":"1996-10-15","pct":3.9},{"date":"1996-11-15","pct":-0.8},{"date":"1996-12-15","pct":1.8},
        {"date":"1997-01-05","pct":-2.4},{"date":"1997-02-05","pct":-3.6},{"date":"1997-03-01","pct":2.3},{"date":"1997-03-25","pct":4.2},
        {"date":"1997-04-05","pct":-1.7},{"date":"1997-05-25","pct":1.1},{"date":"1997-06-25","pct":-2.9},{"date":"1997-07-20","pct":-0.6},
        {"date":"1997-08-15","pct":3.0},{"date":"1997-09-01","pct":-3.8},{"date":"1997-10-01","pct":3.2},{"date":"1997-11-05","pct":-2.0},
        {"date":"1997-12-05","pct":1.4},
        {"date":"1998-01-10","pct":-1.3},{"date":"1998-02-05","pct":-3.1},{"date":"1998-02-28","pct":-0.8},{"date":"1998-03-28","pct":2.7},
        {"date":"1998-04-25","pct":0.9},{"date":"1998-05-10","pct":-2.4},{"date":"1998-06-10","pct":3.9},{"date":"1998-07-05","pct":-3.6},
        {"date":"1998-08-25","pct":1.8},{"date":"1998-09-25","pct":-1.7},{"date":"1998-10-05","pct":-2.9},{"date":"1998-11-05","pct":2.3},
        {"date":"1998-12-05","pct":-0.6},
        {"date":"1999-01-05","pct":4.2},{"date":"1999-02-10","pct":-3.8},{"date":"1999-03-10","pct":-2.0},{"date":"1999-05-05","pct":-1.3},
        {"date":"1999-06-05","pct":1.1},{"date":"1999-07-05","pct":-3.1},{"date":"1999-08-05","pct":3.0},{"date":"1999-08-25","pct":-0.8},
        {"date":"1999-10-05","pct":3.2},{"date":"1999-11-10","pct":-2.4},{"date":"1999-12-10","pct":1.4},
        {"date":"2000-01-05","pct":-3.6},{"date":"2000-02-01","pct":-1.7},{"date":"2000-03-01","pct":-2.9},{"date":"2000-04-01","pct":2.7},
        {"date":"2000-05-10","pct":-0.6},{"date":"2000-06-20","pct":0.9},{"date":"2000-07-01","pct":3.9},{"date":"2000-07-30","pct":-3.8},
        {"date":"2000-08-20","pct":1.8},{"date":"2000-09-25","pct":-2.0},{"date":"2000-10-10","pct":2.3},{"date":"2000-11-10","pct":-1.3},
        {"date":"2000-11-25","pct":4.2},{"date":"2000-12-25","pct":-3.1},
        {"date":"2001-01-20","pct":1.1},{"date":"2001-02-05","pct":-0.8},{"date":"2001-03-05","pct":3.0},{"date":"2001-04-05","pct":-2.4},
        {"date":"2001-04-20","pct":3.2},{"date":"2001-06-05","pct":-3.6},{"date":"2001-06-20","pct":1.4},{"date":"2001-07-15","pct":-1.7},
        {"date":"2001-08-15","pct":2.7},{"date":"2001-09-05","pct":-2.9},{"date":"2001-10-10","pct":0.9},{"date":"2001-10-25","pct":-0.6},
        {"date":"2001-11-20","pct":3.9},{"date":"2001-12-20","pct":-3.8},
        {"date":"2002-01-20","pct":1.8},{"date":"2002-02-05","pct":-2.0},{"date":"2002-03-05","pct":2.3},{"date":"2002-04-01","pct":-1.3},
        {"date":"2002-05-15","pct":4.2},{"date":"2002-06-01","pct":-3.1},{"date":"2002-07-01","pct":1.1},{"date":"2002-08-05","pct":-0.8},
        {"date":"2002-08-20","pct":3.0},{"date":"2002-09-20","pct":-2.4},{"date":"2002-10-01","pct":3.2},{"date":"2002-11-05","pct":1.4},
        {"date":"2002-12-05","pct":-3.6},
        {"date":"2003-01-05","pct":-1.7},{"date":"2003-02-01","pct":2.7},{"date":"2003-03-01","pct":-2.9},{"date":"2003-04-01","pct":-0.6},
        {"date":"2003-05-01","pct":0.9},{"date":"2003-05-25","pct":-3.8},{"date":"2003-06-20","pct":3.9},{"date":"2003-07-25","pct":-2.0},
        {"date":"2003-08-05","pct":-1.3},{"date":"2003-09-05","pct":1.8},{"date":"2003-10-10","pct":-3.1},{"date":"2003-11-10","pct":2.3},
        {"date":"2003-12-10","pct":-0.8},
        {"date":"2004-01-10","pct":4.2},{"date":"2004-02-10","pct":-2.4},{"date":"2004-02-20","pct":1.1},{"date":"2004-03-15","pct":-3.6},
        {"date":"2004-04-15","pct":-1.7},{"date":"2004-05-15","pct":3.0},{"date":"2004-06-10","pct":-2.9},{"date":"2004-07-05","pct":-0.6},
        {"date":"2004-08-05","pct":3.2},{"date":"2004-09-05","pct":-3.8},{"date":"2004-10-05","pct":1.4},{"date":"2004-11-05","pct":-2.0},
        {"date":"2004-12-10","pct":2.7},
        {"date":"2005-01-10","pct":-1.3},{"date":"2005-02-10","pct":0.9},{"date":"2005-03-10","pct":-3.1},{"date":"2005-04-10","pct":3.9},
        {"date":"2005-04-25","pct":-0.8},{"date":"2005-05-25","pct":1.8},{"date":"2005-06-25","pct":-2.4},{"date":"2005-07-30","pct":2.3},
        {"date":"2005-08-05","pct":-3.6},{"date":"2005-09-05","pct":4.2},{"date":"2005-10-05","pct":-1.7},{"date":"2005-11-01","pct":-2.9},
        {"date":"2006-01-01","pct":1.1},{"date":"2006-02-01","pct":-0.6},{"date":"2006-03-05","pct":3.0},{"date":"2006-04-05","pct":-3.8},
        {"date":"2006-04-20","pct":3.2},{"date":"2006-05-20","pct":1.4},{"date":"2006-06-15","pct":-2.0},{"date":"2006-07-01","pct":-1.3},
        {"date":"2006-08-01","pct":2.7},{"date":"2006-09-01","pct":-3.1},{"date":"2006-10-01","pct":-0.8},{"date":"2006-10-30","pct":0.9},
        {"date":"2006-11-30","pct":3.9},
        {"date":"2007-01-05","pct":1.8},{"date":"2007-02-05","pct":-2.4},{"date":"2007-03-05","pct":2.3},{"date":"2007-04-05","pct":-3.6},
        {"date":"2007-05-01","pct":4.2},{"date":"2007-05-30","pct":-1.7},{"date":"2007-06-30","pct":1.1},{"date":"2007-07-30","pct":-2.9},
        {"date":"2007-08-30","pct":-0.6},{"date":"2007-09-30","pct":3.0},{"date":"2007-10-30","pct":-3.8},{"date":"2007-11-30","pct":3.2}
      ]},
      "mark": {"type": "line", "color": "#D99694", "strokeWidth": 4, "strokeJoin": "round", "strokeCap": "round", "clip": true}
    },
    {
      "data": {"values": [
        {"date":"1958-03-23","pct":0},{"date":"1958-09-28","pct":0},{"date":"1958-10-06","pct":-3.75},{"date":"1958-10-14","pct":0},
        {"date":"1959-05-08","pct":0},{"date":"1959-05-16","pct":11.34},{"date":"1959-05-24","pct":0},
        {"date":"1968-11-20","pct":0},{"date":"1969-03-15","pct":0.3},{"date":"1969-07-10","pct":0},
        {"date":"1993-12-10","pct":0},{"date":"1993-12-20","pct":-2.95},{"date":"1993-12-30","pct":0},
        {"date":"2000-04-10","pct":0},{"date":"2000-05-10","pct":-0.35},{"date":"2000-06-10","pct":0},
        {"date":"2005-10-20","pct":0},{"date":"2005-11-25","pct":0.28},{"date":"2005-12-08","pct":-12.4},{"date":"2005-12-20","pct":0},
        {"date":"2006-12-05","pct":0},{"date":"2006-12-15","pct":16.5},{"date":"2006-12-25","pct":0},
        {"date":"2008-01-01","pct":0}
      ]},
      "mark": {"type": "line", "color": "#1F497D", "strokeWidth": 4.5, "strokeJoin": "round", "strokeCap": "round", "clip": true}
    },
    {
      "data": {"values": [{"date": "1959-04-05", "pct": 2.08}]},
      "mark": {"type": "point", "shape": "M 0 -1 C 0.1316 -1 0.2383 -0.5523 0.2383 0 C 0.2383 0.5523 0.1316 1 0 1 C -0.1316 1 -0.2383 0.5523 -0.2383 0 C -0.2383 -0.5523 -0.1316 -1 0 -1 Z", "size": 325584, "filled": false, "color": "#92D050", "strokeWidth": 4, "opacity": 1}
    },
    {
      "data": {"values": [{"date": "1993-12-26", "pct": -0.77}]},
      "mark": {"type": "point", "shape": "M 0 -1 C 0.2424 -1 0.4389 -0.5523 0.4389 0 C 0.4389 0.5523 0.2424 1 0 1 C -0.2424 1 -0.4389 0.5523 -0.4389 0 C -0.4389 -0.5523 -0.2424 -1 0 -1 Z", "size": 44521, "filled": false, "color": "#92D050", "strokeWidth": 4, "opacity": 1}
    },
    {
      "data": {"values": [{"date": "2006-08-26", "pct": 0.30}]},
      "mark": {"type": "point", "shape": "M 0 -1 C 0.1017 -1 0.1842 -0.5523 0.1842 0 C 0.1842 0.5523 0.1017 1 0 1 C -0.1017 1 -0.1842 0.5523 -0.1842 0 C -0.1842 -0.5523 -0.1017 -1 0 -1 Z", "size": 654481, "filled": false, "color": "#92D050", "strokeWidth": 4, "opacity": 1}
    },
    {
      "data": {"values": [
        {"date": "1966-03-16", "pct": -9.34, "date2": "1961-05-29", "pct2": -5.94},
        {"date": "1996-05-23", "pct": -9.34, "date2": "1993-12-22", "pct2": -4.89},
        {"date": "1998-11-18", "pct": -11.63, "date2": "2004-04-02", "pct2": -9.30},
        {"date": "1968-01-22", "pct": -13.91, "date2": "1967-05-02", "pct2": -17.6}
      ]},
      "mark": {"type": "rule", "color": "#9BBB59", "strokeWidth": 4, "strokeCap": "round"},
      "encoding": {"x2": {"field": "date2"}, "y2": {"field": "pct2"}}
    },
    {
      "data": {"values": [{"date": "1961-05-29", "pct": -5.94}]},
      "mark": {"type": "point", "shape": "M -0.45 0.9 L 0 0 L 0.45 0.9", "size": 1918, "angle": 307, "filled": false, "color": "#9BBB59", "strokeWidth": 4, "strokeCap": "round", "strokeJoin": "round", "opacity": 1}
    },
    {
      "data": {"values": [{"date": "1993-12-22", "pct": -4.89}]},
      "mark": {"type": "point", "shape": "M -0.45 0.9 L 0 0 L 0.45 0.9", "size": 1918, "angle": 333, "filled": false, "color": "#9BBB59", "strokeWidth": 4, "strokeCap": "round", "strokeJoin": "round", "opacity": 1}
    },
    {
      "data": {"values": [{"date": "2004-04-02", "pct": -9.30}]},
      "mark": {"type": "point", "shape": "M -0.45 0.9 L 0 0 L 0.45 0.9", "size": 1918, "angle": 65, "filled": false, "color": "#9BBB59", "strokeWidth": 4, "strokeCap": "round", "strokeJoin": "round", "opacity": 1}
    },
    {
      "data": {"values": [{"date": "1966-03-16", "pct": -9.30, "date2": "1998-11-07", "pct2": -13.94}]},
      "mark": {"type": "rect", "color": "#D9D9D9", "opacity": 1},
      "encoding": {"x2": {"field": "date2"}, "y2": {"field": "pct2"}}
    },
    {
      "data": {"values": [{"date": "1966-12-21", "pct": -11.19, "label": "Umkehr data finds the mistake of total\nozone value by this check."}]},
      "mark": {"type": "text", "color": "#FF0000", "font": "Liberation Sans", "fontSize": 42.5, "align": "left", "baseline": "alphabetic", "lineBreak": "\n", "lineHeight": 52},
      "encoding": {"text": {"field": "label"}}
    }
  ]
}
